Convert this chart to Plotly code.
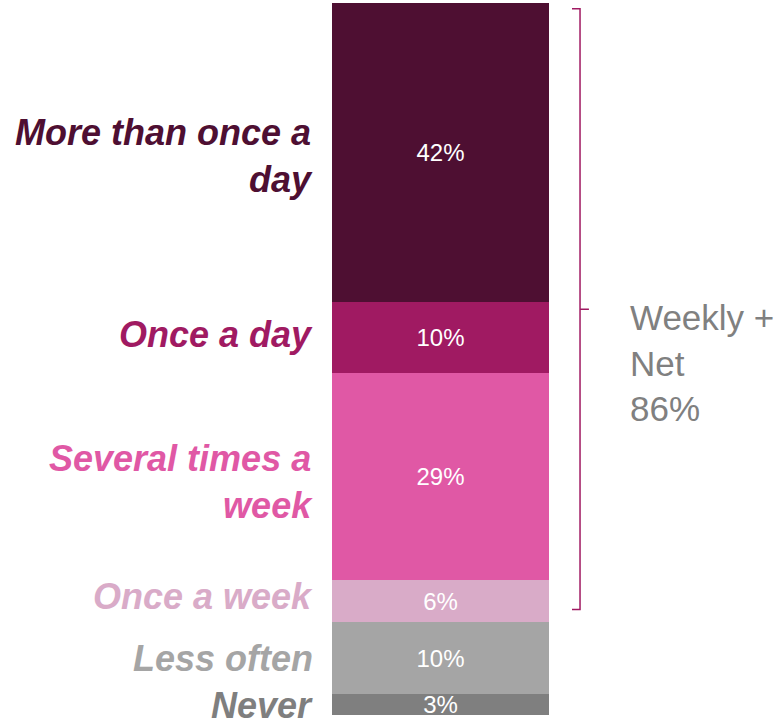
import plotly.graph_objects as go

# Frequency categories, bottom of the stack first
categories = ["Never", "Less often", "Once a week", "Several times a<br>week",
              "Once a day", "More than once a<br>day"]
values = [3, 10, 6, 29, 10, 42]
colors = ["#7F7F7F", "#A5A5A5", "#D9ABC8", "#E058A5", "#A01A62", "#4E0F32"]
net_label = "Weekly +<br>Net<br>86%"

# small vertical nudges (px) for the category labels
label_nudge = [-1, 0, 5, -6, 3, -3]

W, H = 781, 725
fig = go.Figure()

for cat, val, col in zip(categories, values, colors):
    fig.add_trace(go.Bar(
        x=[0], y=[val], width=1, name=cat,
        marker=dict(color=col, line=dict(width=0)),
        text=[f"{val}%"], textposition="inside", insidetextanchor="middle",
        textfont=dict(family="Liberation Sans, Arial", size=24, color="white"),
        hoverinfo="skip", showlegend=False,
    ))

# Category labels to the left of the bar, centred on each segment
cum = 0
for cat, val, col, dy in zip(categories, values, colors, label_nudge):
    mid = cum + val / 2
    cum += val
    fig.add_annotation(
        x=-0.078, xref="paper", y=mid, yref="y",
        xanchor="right", yanchor="middle", align="right",
        text=cat, showarrow=False, yshift=dy,
        font=dict(family="Liberation Sans, Arial", size=36, color=col,
                  weight="bold", style="italic"),
    )

# Bracket spanning the weekly-or-more segments
weekly_bottom = sum(values[:2])
top_p = (100 - 0.8) / 100
bot_p = (weekly_bottom + 1.8) / 100
mid_p = (top_p + bot_p) / 2
xb, xs, xt = 1.143, 1.106, 1.184
fig.add_shape(
    type="path", xref="paper", yref="paper",
    path=(f"M {xs} {top_p} L {xb} {top_p} L {xb} {bot_p} L {xs} {bot_p} "
          f"M {xb} {mid_p} L {xt} {mid_p}"),
    line=dict(color="#A01A62", width=1.5),
)

fig.add_annotation(
    x=1.365, xref="paper", y=mid_p - 0.075, yref="paper",
    xanchor="left", yanchor="middle", align="left",
    text=net_label, showarrow=False,
    font=dict(family="Liberation Sans, Arial", size=35, color="#808080"),
)

fig.update_layout(
    width=W, height=H,
    margin=dict(l=332, r=W - 549, t=3, b=10),
    barmode="stack", bargap=0,
    plot_bgcolor="white", paper_bgcolor="white",
    uniformtext=dict(minsize=24, mode="show"),
    xaxis=dict(range=[-0.5, 0.5], visible=False, fixedrange=True),
    yaxis=dict(range=[0, 100], visible=False, fixedrange=True),
)

fig.write_html("out.html")
